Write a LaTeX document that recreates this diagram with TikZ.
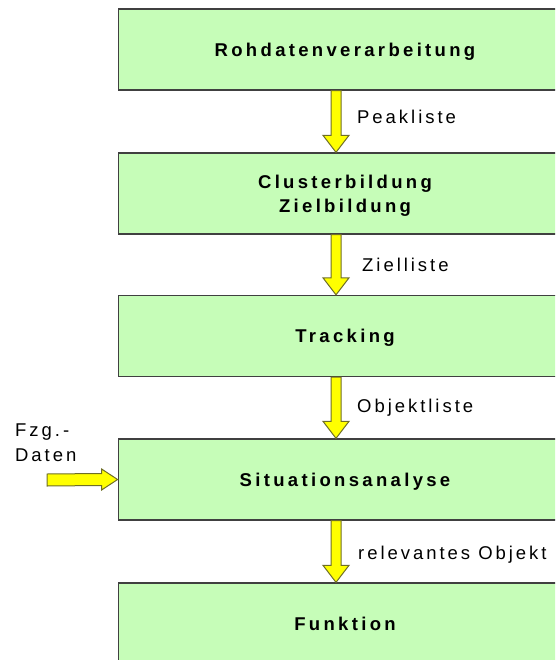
\documentclass[tikz,border=0pt]{standalone}
\usepackage{fontspec}
\setmainfont{Liberation Sans}
\newfontfamily\spbold[LetterSpace=18]{Liberation Sans}
\newfontfamily\spfont[LetterSpace=16]{Liberation Sans}
\usetikzlibrary{calc}
\definecolor{boxgreen}{RGB}{198,253,184}
\definecolor{boxline}{RGB}{64,64,64}
\definecolor{arrowyellow}{RGB}{255,255,0}
\definecolor{arrowline}{RGB}{110,110,40}
\begin{document}
\begin{tikzpicture}[x=1pt,y=-1pt,
  stage/.style={draw=boxline, line width=1.3pt, fill=boxgreen, minimum width=453.5pt,
    minimum height=81pt, inner sep=0pt, align=center, text depth=0pt,
    font=\spbold\bfseries\fontsize{18.5}{24}\selectfont},
  lbl/.style={anchor=west, inner sep=0pt, font=\spfont\fontsize{18.5}{21}\selectfont},
  fat/.style={draw=arrowline, line width=1pt, fill=arrowyellow, line join=miter}]
\path[use as bounding box, clip] (0,0) rectangle (555,660);
\node[stage] (s1) at (345,49.5) {Rohdatenverarbeitung};
\node[stage] (s2) at (345,193.5) {Clusterbildung\\Zielbildung};
\node[stage] (s3) at (345,336) {Tracking};
\node[stage] (s4) at (345,479.5) {Situationsanalyse};
\node[stage] (s5) at (345,623.5) {Funktion};
\coordinate (ax) at (336,0);
\foreach \a/\b in {s1/s2,s2/s3,s3/s4,s4/s5}{
  \draw[fat] ($(\a.south -| ax)+(-5,0)$) -- ($(\b.north -| ax)+(-5,-17)$)
    -- ($(\b.north -| ax)+(-13,-17)$) -- (\b.north -| ax)
    -- ($(\b.north -| ax)+(13,-17)$) -- ($(\b.north -| ax)+(5,-17)$)
    -- ($(\a.south -| ax)+(5,0)$) -- cycle;
}
\node[lbl] (l1) at (357,117) {Peakliste};
\node[lbl] (l2) at (362,265) {Zielliste};
\node[lbl] (l3) at (357,408) {Objektliste};
\node[lbl] (l4) at (358,555) {relevantes Objekt};
\node[lbl, align=left, font=\spfont\fontsize{18.5}{25}\selectfont] (fz) at (15,442.5) {Fzg.-\\Daten};
\coordinate (hs) at (47,480);
\draw[fat] ($(hs)+(0,-6)$) -- ($(s4.west)+(-16,-6)$) -- ($(s4.west)+(-16,-10.5)$)
  -- (s4.west) -- ($(s4.west)+(-16,10.5)$) -- ($(s4.west)+(-16,6)$)
  -- ($(hs)+(0,6)$) -- cycle;
\end{tikzpicture}
\end{document}
